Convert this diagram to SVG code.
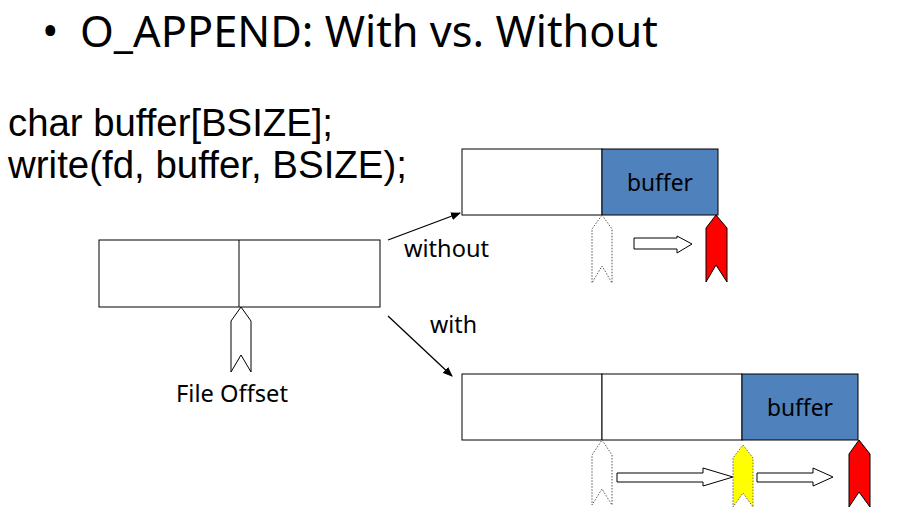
<svg xmlns="http://www.w3.org/2000/svg" width="904" height="526" viewBox="0 0 904 526">
<defs>
<style>
.box{fill:#fff;stroke:#000;stroke-width:1}
.blue{fill:#4F81BD;stroke:#000;stroke-width:1}
.ptr{fill:#fff;stroke:#000;stroke-width:1}
.dot{fill:#fff;stroke:#555;stroke-width:1;stroke-dasharray:1.5 1.5}
.red{fill:#FF0000;stroke:#000;stroke-width:1}
.yel{fill:#FFFF00;stroke:#666;stroke-width:1;stroke-dasharray:1.5 1.5}
.blk{fill:#fff;stroke:#000;stroke-width:1}
.t{font-family:"Noto Sans","Open Sans",sans-serif;fill:#000}
.code{font-family:"Liberation Sans",Arial,sans-serif;fill:#000;font-size:38px}
.line{stroke:#000;stroke-width:1.3;fill:none}
</style>
<marker id="ah" markerWidth="10" markerHeight="8" refX="9" refY="4" orient="auto" markerUnits="userSpaceOnUse">
<path d="M0,0 L10,4 L0,8 Z" fill="#000"/>
</marker>
</defs>
<text class="t" x="42" y="47" font-size="44">•</text>
<text class="t" x="80" y="47" font-size="44" textLength="578" lengthAdjust="spacingAndGlyphs">O_APPEND: With vs. Without</text>
<text class="code" x="8" y="136" textLength="325" lengthAdjust="spacingAndGlyphs">char buffer[BSIZE];</text>
<text class="code" x="8" y="178" textLength="399" lengthAdjust="spacingAndGlyphs">write(fd, buffer, BSIZE);</text>

<g id="file">
<rect class="box" x="99" y="240" width="281" height="67"/>
<line x1="239" y1="240" x2="239" y2="307" stroke="#000"/>
</g>
<g id="offset">
<path class="ptr" d="M241,307 L251,321 L251,372 L241,355 L231,372 L231,321 Z"/>
<text class="t" x="176" y="402" font-size="23" textLength="112" lengthAdjust="spacingAndGlyphs">File Offset</text>
</g>

<g id="without-box">
<rect class="box" x="462" y="149" width="140" height="66"/>
<rect class="blue" x="602" y="149" width="116" height="66"/>
<text class="t" x="627" y="191" font-size="23" textLength="66" lengthAdjust="spacingAndGlyphs">buffer</text>
</g>
<g id="without-ptrs">
<path class="dot" d="M602,215 L612,229 L612,283 L602,266 L592,283 L592,229 Z"/>
<path class="blk" d="M634,238 L677,238 L677,236 L692,244 L677,253 L677,249 L634,249 Z"/>
<path class="red" d="M716,215 L727,228 L727,282 L716,265 L706,282 L706,228 Z"/>
</g>

<g id="with-box">
<rect class="box" x="462" y="374" width="140" height="66"/>
<rect class="box" x="602" y="374" width="140" height="66"/>
<rect class="blue" x="742" y="374" width="116" height="66"/>
<text class="t" x="767" y="416" font-size="23" textLength="66" lengthAdjust="spacingAndGlyphs">buffer</text>
</g>
<g id="with-ptrs">
<path class="dot" d="M602,440 L612,455 L612,505 L602,489 L592,505 L592,455 Z"/>
<path class="blk" d="M617,473 L703,473 L703,468 L733,477 L703,486 L703,482 L617,482 Z"/>
<path class="yel" d="M743,445 L753,458 L753,507 L743,493 L733,507 L733,458 Z"/>
<path class="blk" d="M757,473 L813,473 L813,468 L833,477 L813,486 L813,482 L757,482 Z"/>
<path class="red" d="M859,440 L870,454 L870,507 L859,492 L849,507 L849,454 Z"/>
</g>

<g id="connectors">
<line class="line" x1="388" y1="240" x2="460" y2="213" marker-end="url(#ah)"/>
<line class="line" x1="388" y1="316" x2="452" y2="376" marker-end="url(#ah)"/>
<text class="t" x="404" y="257" font-size="23" textLength="85" lengthAdjust="spacingAndGlyphs">without</text>
<text class="t" x="430" y="333" font-size="23" textLength="47" lengthAdjust="spacingAndGlyphs">with</text>
</g>
</svg>
